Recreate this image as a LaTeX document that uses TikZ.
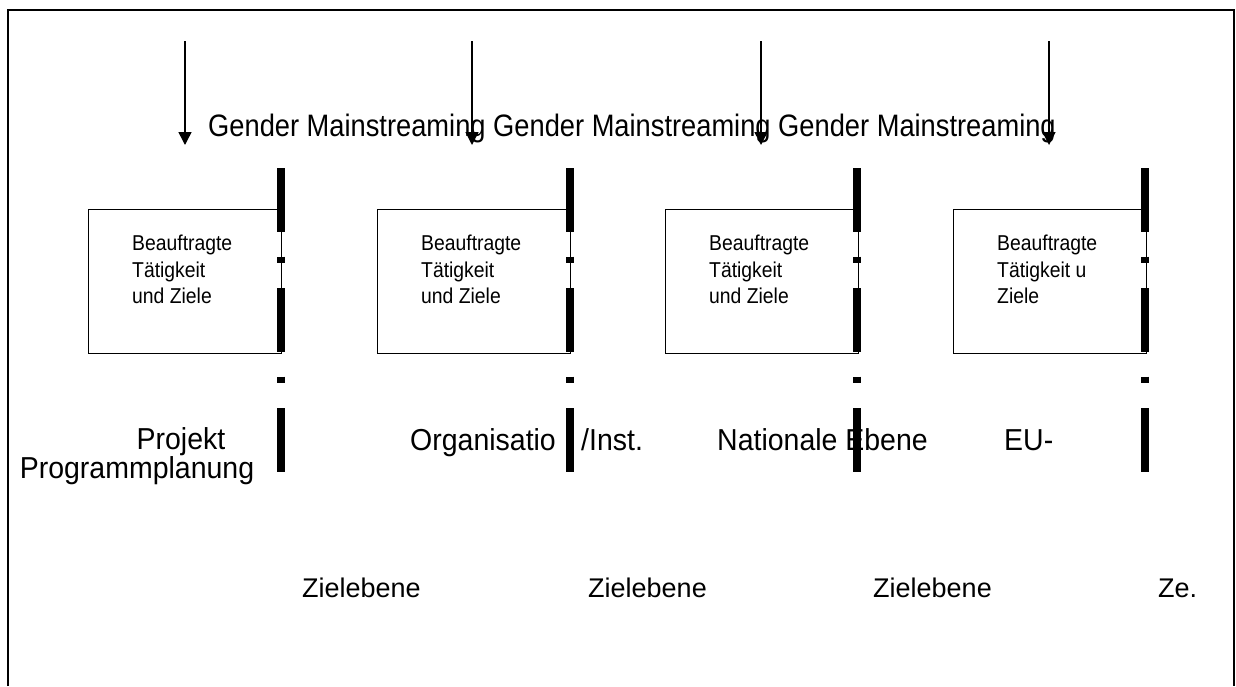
\documentclass[tikz,border=0pt]{standalone}
\usepackage{graphicx}
\usepackage{fontspec}
\setmainfont{Liberation Sans}
\usetikzlibrary{arrows.meta}
\newcommand{\narrowgm}[1]{\scalebox{0.88}[1]{#1}}
\newcommand{\narrowbx}[1]{\scalebox{0.9}[1]{#1}}
\newcommand{\narrowlb}[1]{\scalebox{0.94}[1]{#1}}
\begin{document}
\begin{tikzpicture}[x=1pt,y=-1pt,
  frame/.style={line width=2.2pt},
  gmarrow/.style={-{Triangle[length=13pt,width=13pt]}, line width=1.5pt},
  boxs/.style={draw, line width=1.4pt, minimum width=193pt, minimum height=144pt, anchor=north west, inner sep=0pt},
  barline/.style={line width=7.5pt, dash pattern=on 64pt off 24.5pt on 6pt off 25.5pt},
  boxtxt/.style={inner sep=0pt, anchor=base west, font=\fontsize{21.5}{24}\selectfont},
  lab/.style={inner sep=0pt, anchor=base west, font=\fontsize{30.3}{32}\selectfont},
  ziel/.style={inner sep=0pt, anchor=base west, font=\fontsize{27}{30}\selectfont},
  gmtxt/.style={inner sep=0pt, anchor=base west, font=\fontsize{31}{34}\selectfont}
]
\useasboundingbox (0,0) rectangle (1236,686);
\fill[white] (0,0) rectangle (1236,686);
% frame
\draw[frame] (8,686) -- (8,10) -- (1234,10) -- (1234,686);

% Gender Mainstreaming text
\node[gmtxt] (gm) at (208,136) {\narrowgm{Gender Mainstreaming Gender Mainstreaming Gender Mainstreaming}};

% arrows
\foreach \i/\x in {1/185,2/472,3/761,4/1049}{
  \coordinate (as\i) at (\x,41);
  \coordinate (ae\i) at (\x,145);
  \draw[gmarrow] (as\i) -- (ae\i);
}

% boxes
\foreach \i/\x in {1/88,2/377,3/665,4/953}{
  \node[boxs] (box\i) at (\x,209) {};
}
\foreach \i/\x in {1/88,2/377,3/665}{
  \node[boxtxt] (b\i l1) at (\x+44,250) {\narrowbx{Beauftragte}};
  \node[boxtxt] (b\i l2) at (\x+44,277) {\narrowbx{Tätigkeit}};
  \node[boxtxt] (b\i l3) at (\x+44,303) {\narrowbx{und Ziele}};
}
\node[boxtxt] (b4l1) at (997,250) {\narrowbx{Beauftragte}};
\node[boxtxt] (b4l2) at (997,277) {\narrowbx{Tätigkeit u}};
\node[boxtxt] (b4l3) at (997,303) {\narrowbx{Ziele}};

% level labels
\node[lab, anchor=base] (proj) at (181,449) {\narrowlb{Projekt}};
\node[lab, anchor=base] (prog) at (137,478) {\narrowlb{Programmplanung}};
\node[lab] (orga) at (410,450) {\narrowlb{Organisatio}};
\node[lab] (inst) at (581,450) {\narrowlb{/Inst.}};
\node[lab] (nat) at (717,450) {\narrowlb{Nationale Ebene}};
\node[lab] (eu) at (1004,450) {\narrowlb{EU-}};

% Zielebene
\node[ziel] (z1) at (302,597) {Zielebene};
\node[ziel] (z2) at (588,597) {Zielebene};
\node[ziel] (z3) at (873,597) {Zielebene};
\node[ziel] (z4) at (1158,597) {Ze.};

% bars
\foreach \i/\x in {1/281,2/570,3/857,4/1145}{
  \coordinate (bt\i) at (\x,168);
  \coordinate (bb\i) at (\x,472);
  \draw[barline] (bt\i) -- (bb\i);
}
\end{tikzpicture}
\end{document}
